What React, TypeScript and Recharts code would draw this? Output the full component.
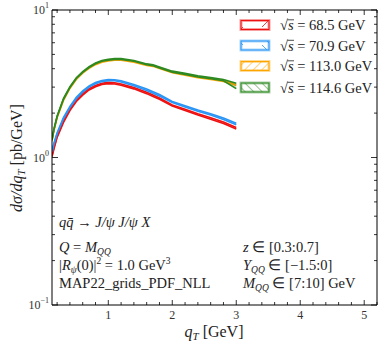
import React from 'react';
import { ComposedChart, Area, XAxis, YAxis, ReferenceLine } from 'recharts';

// q_T grid (GeV)
const qT = [0.12, 0.15, 0.2, 0.3, 0.4, 0.5, 0.6, 0.7, 0.8, 0.9, 1.0, 1.1, 1.2, 1.4, 1.6, 1.7, 1.8, 2.0, 2.2, 2.4, 2.6, 2.8, 3.0];

// sqrt(s) = 68.5 GeV band
const red_lo = [1.01, 1.14, 1.37, 1.73, 2.08, 2.40, 2.65, 2.87, 3.02, 3.13, 3.17, 3.15, 3.09, 2.92, 2.71, 2.59, 2.48, 2.23, 2.08, 1.94, 1.82, 1.70, 1.56];
const red_hi = [1.03, 1.16, 1.39, 1.77, 2.12, 2.44, 2.71, 2.93, 3.08, 3.19, 3.23, 3.21, 3.15, 2.98, 2.77, 2.65, 2.53, 2.27, 2.12, 1.98, 1.86, 1.74, 1.60];
// sqrt(s) = 70.9 GeV band
const blue_lo = [1.09, 1.23, 1.45, 1.83, 2.18, 2.50, 2.77, 3.00, 3.16, 3.27, 3.32, 3.31, 3.25, 3.07, 2.85, 2.73, 2.61, 2.36, 2.20, 2.06, 1.94, 1.81, 1.67];
const blue_hi = [1.11, 1.25, 1.47, 1.87, 2.22, 2.56, 2.83, 3.06, 3.22, 3.33, 3.38, 3.37, 3.31, 3.13, 2.91, 2.79, 2.67, 2.40, 2.24, 2.10, 1.98, 1.85, 1.71];
// sqrt(s) = 113.0 GeV band
const orange_lo = [1.29, 1.52, 1.86, 2.44, 2.94, 3.38, 3.73, 4.02, 4.26, 4.42, 4.51, 4.56, 4.56, 4.43, 4.21, 4.15, 4.02, 3.76, 3.62, 3.48, 3.38, 3.28, 3.08];
const orange_hi = [1.31, 1.54, 1.88, 2.48, 2.98, 3.42, 3.77, 4.08, 4.32, 4.50, 4.59, 4.64, 4.64, 4.49, 4.27, 4.21, 4.08, 3.82, 3.68, 3.54, 3.44, 3.33, 3.13];
// sqrt(s) = 114.6 GeV band
const green_lo = [1.31, 1.54, 1.89, 2.48, 2.98, 3.43, 3.78, 4.07, 4.32, 4.49, 4.57, 4.62, 4.62, 4.49, 4.25, 4.19, 4.05, 3.79, 3.66, 3.52, 3.42, 3.31, 2.93];
const green_hi = [1.33, 1.56, 1.91, 2.52, 3.02, 3.47, 3.82, 4.13, 4.38, 4.55, 4.63, 4.68, 4.68, 4.55, 4.31, 4.25, 4.11, 3.85, 3.72, 3.58, 3.48, 3.38, 3.19];

const xTicks = [0.2, 0.4, 0.6, 0.8, 1, 1.2, 1.4, 1.6, 1.8, 2, 2.2, 2.4, 2.6, 2.8, 3, 3.2, 3.4, 3.6, 3.8, 4, 4.2, 4.4, 4.6, 4.8, 5, 5.2];
const yTicks = [0.1, 0.2, 0.3, 0.4, 0.5, 0.6, 0.7, 0.8, 0.9, 1, 2, 3, 4, 5, 6, 7, 8, 9, 10];
const yMajor: Record<number, string> = { 0.1: '\u22121', 1: '0', 10: '1' };

const legendLabels = ['68.5', '70.9', '113.0', '114.6'];

const COLORS = { red: '#ee1111', blue: '#2b95f5', orange: '#ffa500', green: '#2d8a22' };

const data = qT.map((q, i) => ({
  q,
  red: [red_lo[i], red_hi[i]],
  blue: [blue_lo[i], blue_hi[i]],
  orange: [orange_lo[i], orange_hi[i]],
  green: [green_lo[i], green_hi[i]],
}));

const W = 385;
const H = 346;
const L = 52;
const R = 377;
const T = 10;
const B = 305;
const FONT = '"Liberation Serif", serif';

const XTick = (props: any) => {
  const { x, payload } = props;
  const v = payload.value as number;
  const major = Math.abs(v - Math.round(v)) < 1e-6;
  const len = major ? 5 : 3;
  return (
    <g>
      <line x1={x} x2={x} y1={B} y2={B - len} stroke="#000" strokeWidth={0.8} />
      <line x1={x} x2={x} y1={T} y2={T + len} stroke="#000" strokeWidth={0.8} />
      {major && (
        <text x={x} y={B + 14} textAnchor="middle" fontFamily={FONT} fontSize={12} fill="#333">
          {v}
        </text>
      )}
    </g>
  );
};

const YTick = (props: any) => {
  const { y, payload } = props;
  const v = payload.value as number;
  const exp = yMajor[v];
  const len = exp !== undefined ? 6 : 3;
  return (
    <g>
      <line x1={L} x2={L + len} y1={y} y2={y} stroke="#000" strokeWidth={0.8} />
      <line x1={R} x2={R - len} y1={y} y2={y} stroke="#000" strokeWidth={0.8} />
      {exp !== undefined && (
        <text x={L - 3} y={y + 4} textAnchor="end" fontFamily={FONT} fontSize={12} fill="#333">
          <tspan>10</tspan>
          <tspan dy={-6} fontSize={8}>{exp}</tspan>
        </text>
      )}
    </g>
  );
};

const Overlay = () => {
  const rows = [
    { c: COLORS.red, id: 'hr' },
    { c: COLORS.blue, id: 'hb' },
    { c: COLORS.orange, id: 'ho' },
    { c: COLORS.green, id: 'hg' },
  ];
  const rowY = [25, 45.5, 66, 87.5];
  const fs = 14.5;
  return (
    <svg width={W} height={H} style={{ position: 'absolute', left: 0, top: 0, pointerEvents: 'none' }}>
      <defs>
        <pattern id="hr" width="28" height="9" patternUnits="userSpaceOnUse">
          <line x1="10" y1="9" x2="19" y2="0" stroke={COLORS.red} strokeWidth={0.8} />
        </pattern>
        <pattern id="hb" width="28" height="9" patternUnits="userSpaceOnUse">
          <line x1="10" y1="0" x2="19" y2="9" stroke={COLORS.blue} strokeWidth={0.8} />
        </pattern>
        <pattern id="ho" width="6" height="6" patternUnits="userSpaceOnUse" patternTransform="rotate(45)">
          <line x1="0" y1="0" x2="0" y2="6" stroke={COLORS.orange} strokeWidth={1} />
        </pattern>
        <pattern id="hg" width="6" height="6" patternUnits="userSpaceOnUse" patternTransform="rotate(-45)">
          <line x1="0" y1="0" x2="0" y2="6" stroke={COLORS.green} strokeWidth={1} />
        </pattern>
      </defs>
      {rows.map((r, i) => (
        <g key={r.id}>
          <rect x={241} y={rowY[i] - 4.5} width={28} height={9} fill="#fff" stroke={r.c} strokeOpacity={0.4} strokeWidth={3} />
          <rect x={241} y={rowY[i] - 4.5} width={28} height={9} fill={`url(#${r.id})`} stroke={r.c} strokeWidth={1} />
          <text x={280} y={rowY[i] + 5} fontFamily={FONT} fontSize={fs} fill="#222">
            <tspan>{'\u221A'}</tspan>
            <tspan fontStyle="italic">s</tspan>
            <tspan>{` = ${legendLabels[i]} GeV`}</tspan>
          </text>
          <line x1={287.5} x2={294} y1={rowY[i] - 5.2} y2={rowY[i] - 5.2} stroke="#222" strokeWidth={0.8} />
        </g>
      ))}
      {/* axis labels */}
      <text x={214} y={337} textAnchor="middle" fontFamily={FONT} fontSize={16} fill="#222">
        <tspan fontStyle="italic">q</tspan>
        <tspan fontStyle="italic" fontSize={11} dy={3}>T</tspan>
        <tspan dy={-3}> [GeV]</tspan>
      </text>
      <text transform="translate(22,158) rotate(-90)" textAnchor="middle" fontFamily={FONT} fontSize={16} fill="#222">
        <tspan fontStyle="italic">d{'\u03C3'}/dq</tspan>
        <tspan fontStyle="italic" fontSize={11} dy={3}>T</tspan>
        <tspan dy={-3}> [pb/GeV]</tspan>
      </text>
      {/* annotations */}
      <g fontFamily={FONT} fontSize={14.5} fill="#222">
        <text x={59} y={227}>
          <tspan fontStyle="italic">q</tspan>
          <tspan fontStyle="italic">q̄</tspan>
          <tspan>{' \u2192 '}</tspan>
          <tspan fontStyle="italic">J/{'\u03C8'} J/{'\u03C8'} X</tspan>
        </text>
        <text x={59} y={252}>
          <tspan fontStyle="italic">Q</tspan>
          <tspan> = </tspan>
          <tspan fontStyle="italic">M</tspan>
          <tspan fontStyle="italic" fontSize={9.5} dy={3}>QQ</tspan>
        </text>
        <text x={59} y={270}>
          <tspan>|</tspan>
          <tspan fontStyle="italic">R</tspan>
          <tspan fontStyle="italic" fontSize={9.5} dy={3}>{'\u03C8'}</tspan>
          <tspan dy={-3}>(0)|</tspan>
          <tspan fontSize={9.5} dy={-6}>2</tspan>
          <tspan dy={6}> = 1.0 GeV</tspan>
          <tspan fontSize={9.5} dy={-6}>3</tspan>
        </text>
        <text x={59} y={288}>MAP22_grids_PDF_NLL</text>
        <text x={243} y={252}>
          <tspan fontStyle="italic">z</tspan>
          <tspan>{' \u2208 [0.3:0.7]'}</tspan>
        </text>
        <text x={243} y={270}>
          <tspan fontStyle="italic">Y</tspan>
          <tspan fontStyle="italic" fontSize={9.5} dy={3}>QQ</tspan>
          <tspan dy={-3}>{' \u2208 [\u22121.5:0]'}</tspan>
        </text>
        <text x={243} y={288}>
          <tspan fontStyle="italic">M</tspan>
          <tspan fontStyle="italic" fontSize={9.5} dy={3}>QQ</tspan>
          <tspan dy={-3}>{' \u2208 [7:10] GeV'}</tspan>
        </text>
      </g>
    </svg>
  );
};

const series = [
  { key: 'red', c: COLORS.red },
  { key: 'blue', c: COLORS.blue },
  { key: 'orange', c: COLORS.orange },
  { key: 'green', c: COLORS.green },
];

export default function App() {
  return (
    <div style={{ position: 'relative', width: W, height: H, background: '#fff' }}>
      <style>{'body{margin:0}'}</style>
      <ComposedChart width={W} height={H} data={data} margin={{ top: T, right: W - R, bottom: 0, left: 0 }}>
        <XAxis
          dataKey="q"
          type="number"
          domain={[0.12, 5.2]}
          allowDataOverflow
          ticks={xTicks}
          interval={0}
          tick={XTick}
          tickLine={false}
          axisLine={{ stroke: '#000', strokeWidth: 1 }}
          height={H - B}
        />
        <YAxis
          type="number"
          scale="log"
          domain={[0.1, 10]}
          allowDataOverflow
          ticks={yTicks}
          interval={0}
          tick={YTick}
          tickLine={false}
          axisLine={{ stroke: '#000', strokeWidth: 1 }}
          width={L}
        />
        <ReferenceLine y={10} stroke="#000" strokeWidth={1} />
        <ReferenceLine x={5.2} stroke="#000" strokeWidth={1} />
        {series.map((s) => (
          <Area
            key={s.key}
            type="linear"
            dataKey={s.key}
            stroke={s.c}
            strokeWidth={1.6}
            fill={s.c}
            fillOpacity={0.2}
            isAnimationActive={false}
            dot={false}
            activeDot={false}
          />
        ))}
      </ComposedChart>
      <Overlay />
    </div>
  );
}
